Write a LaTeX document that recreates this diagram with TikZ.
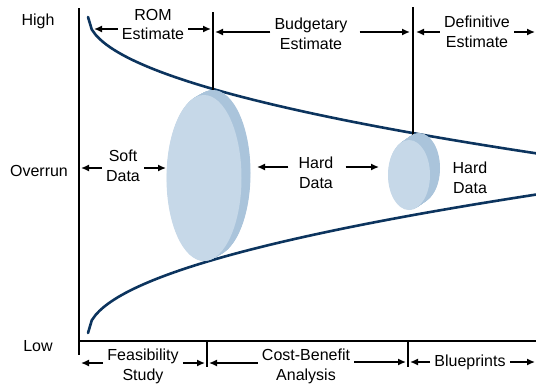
\documentclass[tikz,border=0pt]{standalone}
\usepackage{fontspec}
\setmainfont{Liberation Sans}
\usetikzlibrary{arrows.meta,calc}
\definecolor{curvecol}{RGB}{12,52,94}
\definecolor{discfront}{RGB}{198,216,232}
\definecolor{discside}{RGB}{170,196,219}
\begin{document}
\begin{tikzpicture}[x=1pt,y=-1pt,
  lbl/.style={font=\fontsize{16}{19.5}\selectfont, align=center, inner sep=4pt},
  axis/.style={line width=1.8pt},
  arr/.style={line width=1.4pt, -{Latex[length=8pt,width=7pt]}},
  curve/.style={line width=2.6pt, draw=curvecol, line cap=round},
  side/.style={fill=discside},
  front/.style={fill=discfront},
]
\fill[white] (0,0) rectangle (536,388);
\useasboundingbox (0,0) rectangle (536,388);

% curves
\draw[curve] plot[domain=0:448, samples=120] ({88+\x},{17+6.44*sqrt(\x)});
\draw[curve] plot[domain=0:448, samples=120] ({88+\x},{333-6.54*sqrt(\x)});

% axes
\coordinate (ytop) at (79,8);
\coordinate (ybot) at (79,355);
\coordinate (xorg) at (79,341);
\coordinate (xend) at (536,341);
\draw[axis] (ytop) -- (ybot);
\draw[axis] (xorg) -- (xend);
\coordinate (t1a) at (207,341); \coordinate (t1b) at (207,367);
\coordinate (t2a) at (408,341); \coordinate (t2b) at (408,367);
\draw[axis] (t1a) -- (t1b);
\draw[axis] (t2a) -- (t2b);

% vertical markers
\coordinate (v1t) at (213,12); \coordinate (v1b) at (213,92);
\coordinate (v2t) at (413,7);  \coordinate (v2b) at (413,135);
\draw[axis] (v1t) -- (v1b);
\draw[axis] (v2t) -- (v2b);

% big disc
\coordinate (bigback) at (213,173);
\coordinate (bigfront) at (204,178);
\foreach \t in {0,0.05,...,1.0}
  \fill[side] ($(bigback)!\t!(bigfront)$) ellipse [x radius=37.5, y radius=83];
\fill[front] (bigfront) ellipse [x radius=37.5, y radius=83];

% small disc
\coordinate (smback) at (419,168);
\coordinate (smfront) at (409,175);
\foreach \t in {0,0.05,...,1.0}
  \fill[side] ($(smback)!\t!(smfront)$) ellipse [x radius=21, y radius=35];
\fill[front] (smfront) ellipse [x radius=21, y radius=35];

% axis labels
\node[lbl] (high) at (38,21) {High};
\node[lbl] (overrun) at (39,171) {Overrun};
\node[lbl] (low) at (38,346) {Low};

% top labels
\node[lbl] (rom) at (153,24.5) {ROM\\Estimate};
\node[lbl] (budget) at (311,34) {Budgetary\\Estimate};
\node[lbl] (defin) at (477,32) {Definitive\\Estimate};

\coordinate (romL) at (94,29);  \coordinate (romR) at (211,29);
\draw[arr] (romL -| rom.west) -- (romL);
\draw[arr] (romR -| rom.east) -- (romR);
\coordinate (budL) at (215,32); \coordinate (budR) at (410,32);
\draw[arr] (budL -| budget.west) -- (budL);
\draw[arr] ($(budR -| budget.east)+(8,0)$) -- (budR);
\coordinate (defL) at (416,32); \coordinate (defR) at (535,32);
\draw[arr] (defL -| defin.west) -- (defL);
\draw[arr] (defR -| defin.east) -- (defR);

% middle labels
\node[lbl] (soft) at (123,166) {Soft\\Data};
\node[lbl] (hard1) at (316,173) {Hard\\Data};
\node[lbl] (hard2) at (470,178) {Hard\\Data};

\coordinate (softL) at (81,168); \coordinate (softR) at (166,168);
\draw[arr] (softL -| soft.west) -- (softL);
\draw[arr] (softR -| soft.east) -- (softR);
\coordinate (hardL) at (257,167); \coordinate (hardR) at (379,167);
\draw[arr] ($(hardL -| hard1.west)+(-6,0)$) -- (hardL);
\draw[arr] ($(hardR -| hard1.east)+(8,0)$) -- (hardR);

% bottom labels
\node[lbl] (feas) at (143,366.5) {Feasibility\\Study};
\node[lbl] (cost) at (306,366.5) {Cost-Benefit\\Analysis};
\node[lbl] (blue) at (470,362) {Blueprints};

\coordinate (feaL) at (81,363); \coordinate (feaR) at (205,363);
\draw[arr] (feaL -| feas.west) -- (feaL);
\draw[arr] (feaR -| feas.east) -- (feaR);
\coordinate (cosL) at (209,363); \coordinate (cosR) at (406,362);
\draw[arr] (cosL -| cost.west) -- (cosL);
\draw[arr] (cosR -| cost.east) -- (cosR);
\coordinate (bluL) at (410,362); \coordinate (bluR) at (535,362);
\draw[arr] (bluL -| blue.west) -- (bluL);
\draw[arr] (bluR -| blue.east) -- (bluR);
\end{tikzpicture}
\end{document}
